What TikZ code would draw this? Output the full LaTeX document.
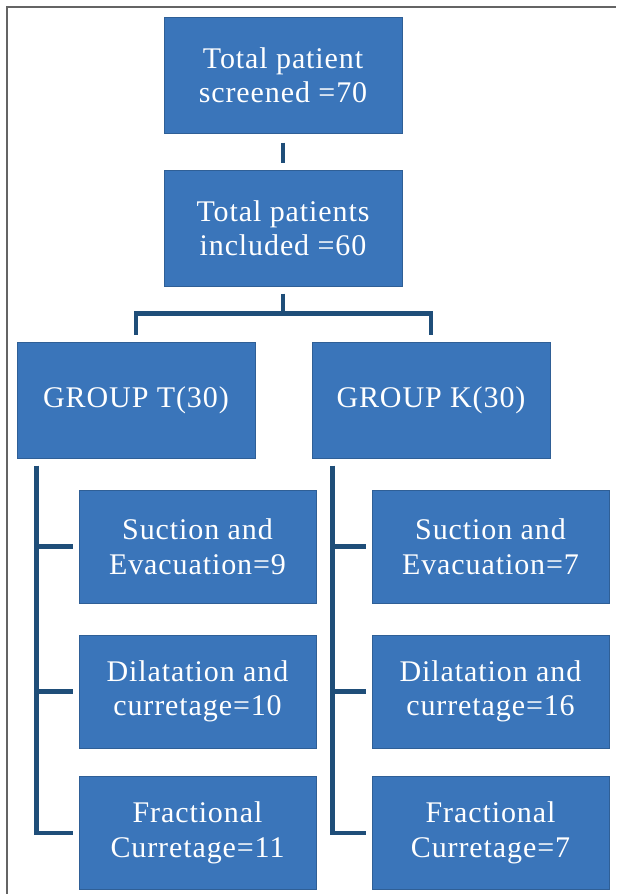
\documentclass[tikz,border=0pt]{standalone}
\usepackage{fontspec}
\setmainfont[LetterSpace=3]{Liberation Serif}
\usetikzlibrary{calc}
\begin{document}
\begin{tikzpicture}[x=1pt,y=-1pt,
  box/.style={draw={rgb,255:red,47;green,95;blue,150}, fill={rgb,255:red,58;green,117;blue,186},
    line width=1pt, text=white, align=center, inner sep=0pt,
    minimum width=238pt, minimum height=116pt,
    font=\fontsize{30}{34.5}\selectfont},
  sub/.style={box, minimum width=237pt, minimum height=113pt},
  conn/.style={draw={rgb,255:red,31;green,78;blue,121}, line width=4.5pt}]
\useasboundingbox (0,0) rectangle (616,894);
\draw[draw={rgb,255:red,100;green,100;blue,100}, line width=2pt] (7,894) -- (7,7) -- (616,7);

\node[box] (b1) at (283,75) {Total patient\\screened =70};
\node[box] (b2) at (283,228) {Total patients\\included =60};
\node[box] (gt) at (136,400) {GROUP T(30)};
\node[box] (gk) at (431,400) {GROUP K(30)};

\node[sub] (s1) at (197.5,546.5) {Suction and\\Evacuation=9};
\node[sub] (d1) at (197.5,691.5) {Dilatation and\\curretage=10};
\node[sub] (f1) at (197.5,833) {Fractional\\Curretage=11};
\node[sub] (s2) at (490.5,546.5) {Suction and\\Evacuation=7};
\node[sub] (d2) at (490.5,691.5) {Dilatation and\\curretage=16};
\node[sub] (f2) at (490.5,833) {Fractional\\Curretage=7};

\draw[conn, shorten <=9pt, shorten >=7pt] (b1.south) -- (b2.north);
\coordinate (j) at ($(b2.south)+(0,27)$);
\draw[conn] ([yshift=-7pt]b2.south) -- (j);
\draw[conn] ([yshift=7pt]gt.north) |- (j) -| ([yshift=7pt]gk.north);

\coordinate (lv) at ([xshift=20pt,yshift=-7pt]gt.south west);
\coordinate (rv) at ([xshift=21pt,yshift=-7pt]gk.south west);
\draw[conn] (lv) |- ([xshift=-6pt]f1.west);
\draw[conn] (s1.west -| lv) -- ([xshift=-6pt]s1.west);
\draw[conn] (d1.west -| lv) -- ([xshift=-6pt]d1.west);
\draw[conn] (rv) |- ([xshift=-6pt]f2.west);
\draw[conn] (s2.west -| rv) -- ([xshift=-6pt]s2.west);
\draw[conn] (d2.west -| rv) -- ([xshift=-6pt]d2.west);
\end{tikzpicture}
\end{document}
